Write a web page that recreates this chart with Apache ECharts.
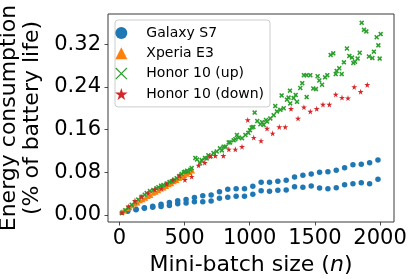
<!DOCTYPE html>
<html><head><meta charset="utf-8">
<script src="https://cdn.jsdelivr.net/npm/echarts@6/dist/echarts.min.js"></script>
<style>html,body{margin:0;padding:0;background:#fff}#c{width:415px;height:279px}</style>
</head><body><div id="c"></div>
<script>
const seriesNames = ['Galaxy S7', 'Xperia E3', 'Honor 10 (up)', 'Honor 10 (down)'];
const xTicks = [0, 500, 1000, 1500, 2000];
const yTicks = [0, 0.08, 0.16, 0.24, 0.32];

const galaxyX = [64,128,192,256,320,384,448,512,576,640,704,768,832,896,960,1024,1088,1152,1216,1280,1344,1408,1472,1536,1600,1664,1728,1792,1856,1920,1984];
const galaxyUpper = [0.008,0.0107,0.0137,0.0165,0.020,0.0235,0.0265,0.029,0.033,0.0362,0.0375,0.0437,0.0481,0.0493,0.0493,0.0537,0.0612,0.0612,0.0631,0.065,0.0712,0.0743,0.0768,0.080,0.0812,0.0837,0.0887,0.0943,0.095,0.0981,0.1031];
const galaxyLower = [0.007,0.010,0.0125,0.0145,0.016,0.018,0.021,0.0225,0.025,0.025,0.0262,0.0312,0.0331,0.035,0.035,0.0387,0.0456,0.0443,0.0462,0.0468,0.0531,0.0518,0.0543,0.0506,0.0493,0.0512,0.0568,0.0587,0.0606,0.0587,0.0668];

const xperiaX = [20,40,60,80,100,120,140,160,180,200,220,240,260,280,300,320,340,360,380,400,420,440,460,480,500,520,540,560];
const xperiaY = [0.006,0.008,0.012,0.014,0.018,0.021,0.023,0.027,0.029,0.032,0.035,0.037,0.041,0.043,0.046,0.049,0.051,0.054,0.057,0.059,0.063,0.065,0.069,0.071,0.074,0.077,0.080,0.083];

const honorUpX = [20,45,70,95,120,145,170,195,210,235,261,285,300,320,338,363,385,402,420,440,460,478,495,504,520,529,545,555,
  583,596,619,632,657,670,683,700,722,747,772,786,800,815,839,850,877,890,902,916,941,967,990,1002,1015,1028,1038,1058,1082,1095,1107,1125,1133,1158,1184,1196,1209,1235,1245,1261,1286,1298,1309,1311,1337,1353,1363,1388,1403,1416,1437,1437,1465,1488,1508,1521,1534,1555,1578,1595,1621,1641,1660,1667,1687,1706,1723,1746,1764,1785,1795,1808,1828,1844,1859,1877,1895,1915,1941,1953,1974,1987,1997,2005];
const honorUpY = [0.004,0.009,0.014,0.019,0.024,0.029,0.034,0.038,0.041,0.045,0.047,0.050,0.052,0.055,0.056,0.059,0.062,0.063,0.066,0.069,0.073,0.077,0.080,0.081,0.083,0.081,0.085,0.088,
  0.107,0.104,0.097,0.103,0.107,0.106,0.112,0.110,0.116,0.119,0.125,0.121,0.128,0.128,0.136,0.136,0.140,0.142,0.150,0.145,0.144,0.150,0.154,0.159,0.164,0.165,0.192,0.176,0.170,0.174,0.169,0.178,0.175,0.181,0.187,0.204,0.194,0.197,0.224,0.200,0.216,0.220,0.233,0.209,0.219,0.225,0.212,0.238,0.247,0.262,0.262,0.221,0.262,0.237,0.236,0.260,0.252,0.244,0.258,0.262,0.300,0.303,0.264,0.270,0.275,0.264,0.286,0.312,0.298,0.295,0.285,0.287,0.293,0.304,0.360,0.347,0.344,0.297,0.294,0.306,0.333,0.318,0.293,0.339];

const honorDownX = [20,70,120,170,222,272,322,362,412,460,503,555,608,655,696,736,798,840,890,941,985,1031,1087,1133,1176,1227,1273,1317,1371,1416,1465,1514,1562,1611,1660,1708,1754,1802,1851,1902];
const honorDownY = [0.004,0.016,0.027,0.034,0.041,0.048,0.050,0.058,0.066,0.074,0.066,0.072,0.093,0.098,0.110,0.111,0.111,0.123,0.123,0.128,0.178,0.145,0.139,0.162,0.153,0.165,0.165,0.199,0.181,0.202,0.194,0.199,0.207,0.207,0.226,0.220,0.219,0.240,0.231,0.244];

const zip = (xs, ys) => xs.map((x, i) => [x, ys[i]]);
const FONT = 'DejaVu Sans';
const starPath = 'path://M50,0 L61,35 L98,35 L68,57 L79,91 L50,70 L21,91 L32,57 L2,35 L39,35 Z';
const triPath = 'path://M50,0 L100,100 L0,100 Z';
const xThick = 'path://M0,22 L22,0 L50,28 L78,0 L100,22 L72,50 L100,78 L78,100 L50,72 L22,100 L0,78 L28,50 Z';
const xThin = 'path://M0,7 L7,0 L50,43 L93,0 L100,7 L57,50 L100,93 L93,100 L50,57 L7,100 L0,93 L43,50 Z';

const chart = echarts.init(document.getElementById('c'), null, {renderer: 'canvas'});
chart.setOption({
  animation: false,
  backgroundColor: '#fff',
  grid: {left: 108, right: 21, top: 14, bottom: 57, show: true, containLabel: false, outerBoundsMode: 'none',
    borderColor: '#3a3a3a', borderWidth: 1, backgroundColor: 'transparent'},
  legend: {
    orient: 'vertical', left: 115, top: 20,
    padding: [6, 6, 6, 0], itemGap: 6.3, itemWidth: 40, itemHeight: 12,
    symbolKeepAspect: true,
    backgroundColor: 'rgba(255,255,255,0.8)', borderColor: '#cccccc', borderWidth: 1, borderRadius: 3,
    textStyle: {fontFamily: FONT, fontSize: 14, color: '#000'},
    data: [
      {name: seriesNames[0], icon: 'circle'},
      {name: seriesNames[1], icon: triPath},
      {name: seriesNames[2], icon: xThin},
      {name: seriesNames[3], icon: starPath}
    ]
  },
  xAxis: {
    type: 'value', min: -87, max: 2107,
    splitLine: {show: false},
    axisLine: {show: false, onZero: false},
    axisTick: {show: true, inside: false, length: 3.5, lineStyle: {color: '#222', width: 0.8}, customValues: xTicks},
    axisLabel: {customValues: xTicks, margin: 6, fontFamily: FONT, fontSize: 21, color: '#000', formatter: v => String(v)},
    name: 'Mini-batch size ({i|n})', nameLocation: 'middle', nameGap: 24,
    nameTextStyle: {fontFamily: FONT, fontSize: 22, color: '#000', rich: {i: {fontFamily: FONT, fontSize: 22, fontStyle: 'italic', color: '#000'}}}
  },
  yAxis: {
    type: 'value', min: -0.0131, max: 0.3766,
    splitLine: {show: false},
    axisLine: {show: false, onZero: false},
    axisTick: {show: true, length: 3.5, lineStyle: {color: '#222', width: 0.8}, customValues: yTicks},
    axisLabel: {customValues: yTicks, margin: 7, fontFamily: FONT, fontSize: 21, color: '#000', formatter: v => v.toFixed(2)},
    name: 'Energy consumption\n(% of battery life)', nameLocation: 'middle', nameRotate: 90, nameGap: 52.5,
    nameTextStyle: {fontFamily: FONT, fontSize: 22, color: '#000', lineHeight: 22.5}
  },
  series: [
    {name: seriesNames[0], type: 'scatter', symbol: 'circle', symbolSize: 5.5, itemStyle: {color: '#1f77b4', opacity: 1},
      data: zip(galaxyX, galaxyUpper).concat(zip(galaxyX, galaxyLower))},
    {name: seriesNames[1], type: 'scatter', symbol: 'triangle', symbolSize: 5.5, itemStyle: {color: '#ff7f0e', opacity: 1},
      data: zip(xperiaX, xperiaY)},
    {name: seriesNames[2], type: 'scatter', symbol: xThick, symbolSize: 5, itemStyle: {color: '#2ca02c', opacity: 1},
      data: zip(honorUpX, honorUpY)},
    {name: seriesNames[3], type: 'scatter', symbol: starPath, symbolSize: 6, itemStyle: {color: '#d62728', opacity: 1},
      data: zip(honorDownX, honorDownY)}
  ]
});
</script>
</body></html>
